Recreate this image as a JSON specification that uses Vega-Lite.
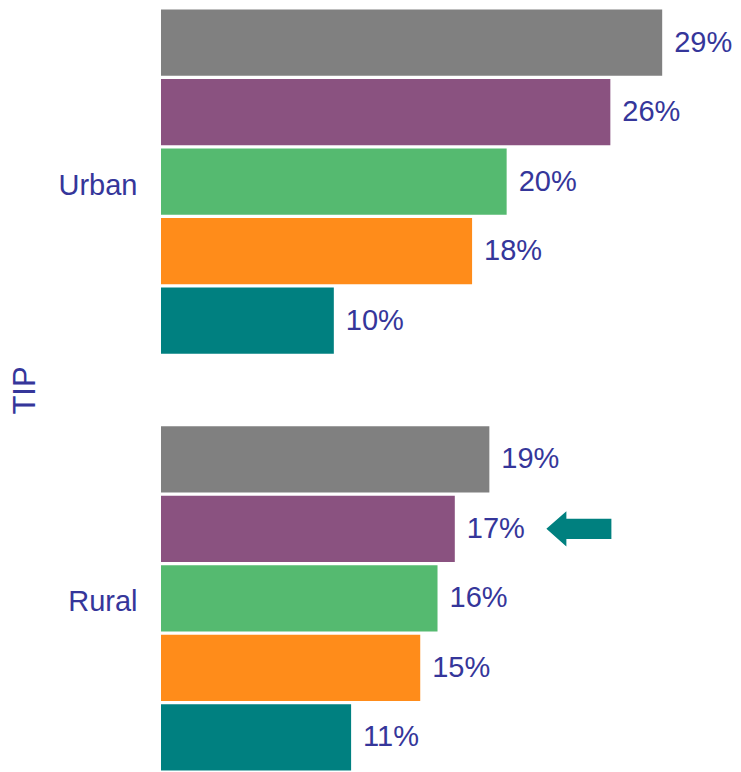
{
  "$schema": "https://vega.github.io/schema/vega-lite/v6.json",
  "width": 580,
  "height": 764,
  "autosize": {"type": "none"},
  "padding": {"left": 161, "top": 8, "right": 0, "bottom": 0},
  "config": {"view": {"stroke": null}, "font": "Liberation Sans"},
  "data": {
    "values": [
      {"area": "Urban", "series": "A", "value": 0.29},
      {"area": "Urban", "series": "B", "value": 0.26},
      {"area": "Urban", "series": "C", "value": 0.20},
      {"area": "Urban", "series": "D", "value": 0.18},
      {"area": "Urban", "series": "E", "value": 0.10},
      {"area": "Rural", "series": "A", "value": 0.19},
      {"area": "Rural", "series": "B", "value": 0.17},
      {"area": "Rural", "series": "C", "value": 0.16},
      {"area": "Rural", "series": "D", "value": 0.15},
      {"area": "Rural", "series": "E", "value": 0.11}
    ]
  },
  "encoding": {
    "y": {
      "field": "area",
      "type": "nominal",
      "sort": ["Urban", "Rural"],
      "scale": {"paddingInner": 0.1667, "paddingOuter": 0},
      "axis": {
        "title": "TIP",
        "domain": false,
        "ticks": false,
        "grid": false,
        "labelFontSize": 29,
        "labelColor": "#35369A",
        "labelPadding": 24,
        "labelOffset": 4,
        "titleFontSize": 31,
        "titleFontWeight": "normal",
        "titleColor": "#35369A",
        "titlePadding": 17
      }
    },
    "yOffset": {
      "field": "series",
      "type": "nominal",
      "sort": ["A", "B", "C", "D", "E"],
      "scale": {"paddingInner": 0.045, "paddingOuter": 0.02}
    },
    "x": {
      "field": "value",
      "type": "quantitative",
      "scale": {"domain": [0, 0.3356], "nice": false},
      "axis": null
    }
  },
  "layer": [
    {
      "mark": {"type": "bar"},
      "encoding": {
        "color": {
          "field": "series",
          "type": "nominal",
          "scale": {
            "domain": ["A", "B", "C", "D", "E"],
            "range": ["#808080", "#8A5280", "#55BA70", "#FF8C1A", "#008080"]
          },
          "legend": null
        }
      }
    },
    {
      "mark": {"type": "text", "align": "left", "baseline": "middle", "dx": 12, "fontSize": 29, "color": "#35369A"},
      "encoding": {
        "text": {"field": "value", "type": "quantitative", "format": ".0%"}
      }
    },
    {
      "transform": [{"filter": "datum.area === 'Rural' && datum.series === 'B'"}],
      "mark": {
        "type": "point",
        "shape": "M -1 0 L -0.385 -0.54 L -0.385 -0.31 L 1 -0.31 L 1 0.31 L -0.385 0.31 L -0.385 0.54 Z",
        "filled": true,
        "color": "#00807F",
        "opacity": 1,
        "size": 4225,
        "dy": -3
      },
      "encoding": {
        "x": {"datum": 0.2418}
      }
    }
  ]
}
